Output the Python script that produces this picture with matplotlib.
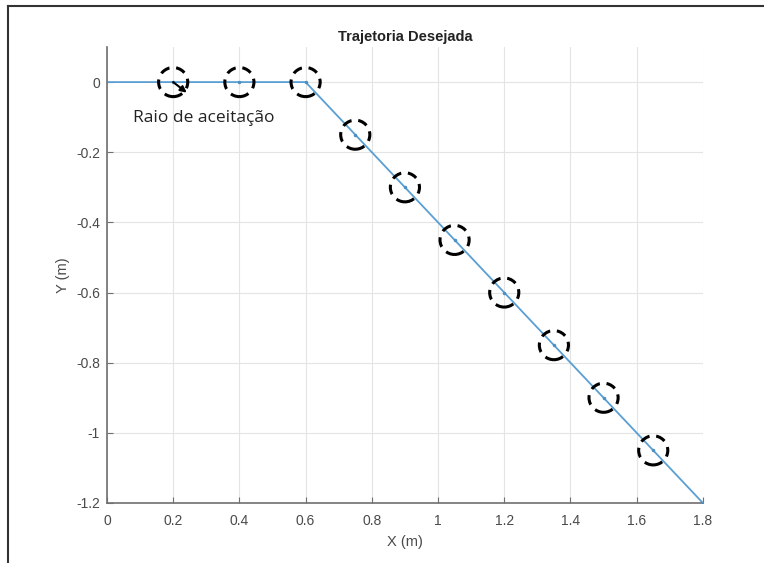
import matplotlib.pyplot as plt
from matplotlib.patches import Ellipse
from matplotlib.lines import Line2D
from matplotlib.ticker import FuncFormatter

# trajectory vertices
path_x = [0, 0.6, 1.8]
path_y = [0, 0, -1.2]

# waypoints with acceptance radius
wp_x = [0.2, 0.4, 0.6, 0.75, 0.9, 1.05, 1.2, 1.35, 1.5, 1.65]
wp_y = [0, 0, 0, -0.15, -0.3, -0.45, -0.6, -0.75, -0.9, -1.05]

x_ticks = [0, 0.2, 0.4, 0.6, 0.8, 1, 1.2, 1.4, 1.6, 1.8]
y_ticks = [0, -0.2, -0.4, -0.6, -0.8, -1, -1.2]

fig = plt.figure(figsize=(7.64, 5.63), dpi=100)
ax = fig.add_axes([0.140, 0.1066, 0.780, 0.8099])

ax.plot(path_x, path_y, color='#5a9fd3', lw=1.3, zorder=2)
ax.plot(wp_x + [1.8], wp_y + [-1.2], ls='none', marker='.', ms=3, color='#4a8fc5', zorder=3)

for cx, cy in zip(wp_x, wp_y):
    ax.add_patch(Ellipse((cx, cy), 0.088, 0.083, fill=False, ec='black',
                         lw=2.2, ls=(0, (3.2, 2.2)), zorder=4))

# radius arrow in first circle
ax.annotate('', xy=(0.241, -0.03), xytext=(0.2, 0),
            arrowprops=dict(arrowstyle='-|>', color='black', lw=1.5,
                            mutation_scale=9, shrinkA=0, shrinkB=0), zorder=5)
ax.text(0.078, -0.103, 'Raio de aceitação', fontsize=12.5, family='Open Sans',
        va='center', ha='left', color='#222222')

ax.set_xlim(0, 1.8)
ax.set_ylim(-1.2, 0.1)
ax.set_xticks(x_ticks)
ax.set_yticks(y_ticks)
ax.xaxis.set_major_formatter(FuncFormatter(lambda v, p: '%g' % round(v, 2)))
ax.yaxis.set_major_formatter(FuncFormatter(lambda v, p: '%g' % round(v, 2)))
ax.grid(True, color='#e4e4e4', lw=0.8)
ax.set_axisbelow(True)
for s in ['top', 'right']:
    ax.spines[s].set_visible(False)
for s in ['left', 'bottom']:
    ax.spines[s].set_color('#707070')
    ax.spines[s].set_linewidth(1.2)
ax.tick_params(direction='in', length=4, colors='#707070', labelcolor='#4a4a4a',
               labelsize=10)
ax.tick_params(axis='x', pad=8)
ax.tick_params(axis='y', pad=5)
for lab in ax.get_xticklabels() + ax.get_yticklabels():
    lab.set_family('Liberation Sans')

ax.set_title('Trajetoria Desejada', fontsize=10.5, fontweight='bold',
             family='Liberation Sans', color='#222222', pad=4)
ax.set_xlabel('X (m)', fontsize=10.5, family='Liberation Sans', color='#4a4a4a', labelpad=5)
ax.set_ylabel('Y (m)', fontsize=10.5, family='Liberation Sans', color='#4a4a4a', labelpad=4)

# outer frame lines (top and left)
fig.add_artist(Line2D([8 / 764, 1], [1 - 6 / 563, 1 - 6 / 563], color='#333333', lw=1.5))
fig.add_artist(Line2D([8 / 764, 8 / 764], [0, 1 - 6 / 563], color='#333333', lw=1.5))

fig.savefig('out.png', dpi=100)
